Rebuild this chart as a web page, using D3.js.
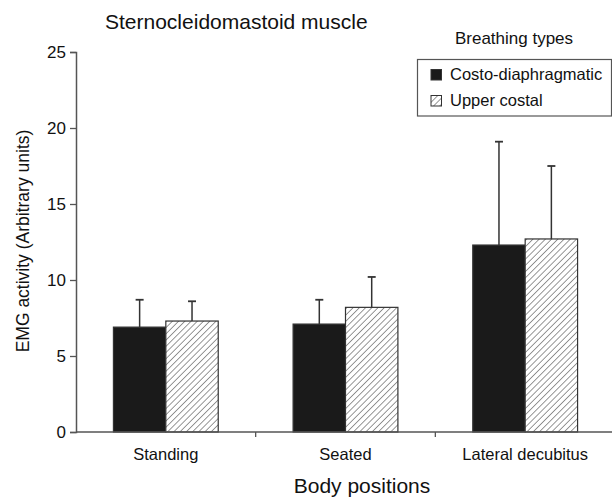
<!DOCTYPE html>
<html>
<head>
<meta charset="utf-8">
<title>Sternocleidomastoid muscle</title>
<script src="https://d3js.org/d3.v7.min.js"></script>
<style>
  body { margin: 0; background: #fff; }
  svg text { font-family: "Liberation Sans", Arial, Helvetica, sans-serif; fill: #111; }
</style>
</head>
<body>
<svg id="chart" width="612" height="497"></svg>
<script>
// body positions on the x axis
var categories = ['Standing', 'Seated', 'Lateral decubitus'];
// breathing types (legend)
var seriesNames = ['Costo-diaphragmatic', 'Upper costal'];
// mean EMG activity and SD per position
var costoMeans = [6.9, 7.1, 12.3];
var costoSD = [1.8, 1.6, 6.8];
var upperMeans = [7.3, 8.2, 12.7];
var upperSD = [1.3, 2.0, 4.8];
var yTicks = [0, 5, 10, 15, 20, 25];

var rows = categories.map(function(c, i) {
  return {
    cat: c,
    vals: [
      {key: seriesNames[0], mean: costoMeans[i], sd: costoSD[i]},
      {key: seriesNames[1], mean: upperMeans[i], sd: upperSD[i]}
    ]
  };
});

var svg = d3.select('#chart');
var ink = '#333';

// hatch pattern for upper costal bars
var defs = svg.append('defs');
var pat = defs.append('pattern')
  .attr('id', 'hatch')
  .attr('patternUnits', 'userSpaceOnUse')
  .attr('width', 4.4).attr('height', 4.4)
  .attr('patternTransform', 'rotate(45)');
pat.append('rect').attr('width', 4.4).attr('height', 4.4).attr('fill', '#fff');
pat.append('line')
  .attr('x1', 0).attr('y1', 0).attr('x2', 0).attr('y2', 4.4)
  .attr('stroke', '#444').attr('stroke-width', 1.1);

var fills = d3.scaleOrdinal().domain(seriesNames).range(['#1a1a1a', 'url(#hatch)']);

var x0 = d3.scaleBand().domain(categories).range([76, 615])
  .paddingInner(0.4167).paddingOuter(0.2083);
var x1 = d3.scaleBand().domain(seriesNames).range([0, x0.bandwidth()]);
var y = d3.scaleLinear().domain([0, 25]).range([432, 52]);

// y axis
var yAxis = svg.append('g')
  .attr('transform', 'translate(76,0)')
  .call(d3.axisLeft(y).tickValues(yTicks).tickSize(6).tickPadding(4));
yAxis.select('.domain').attr('stroke', '#555').attr('stroke-width', 1.5);
yAxis.selectAll('.tick line').attr('stroke', '#555').attr('stroke-width', 1.3);
yAxis.selectAll('.tick text').style('font-size', '17px').attr('fill', '#111')
  .attr('font-family', null);

// bars
var groups = svg.selectAll('.grp')
  .data(rows)
  .enter().append('g')
  .attr('class', 'grp')
  .attr('transform', function(d) { return 'translate(' + x0(d.cat) + ',0)'; });

groups.selectAll('rect')
  .data(function(d) { return d.vals; })
  .enter().append('rect')
  .attr('x', function(d) { return x1(d.key); })
  .attr('y', function(d) { return y(d.mean); })
  .attr('width', x1.bandwidth())
  .attr('height', function(d) { return y(0) - y(d.mean); })
  .attr('fill', function(d) { return fills(d.key); })
  .attr('stroke', ink)
  .attr('stroke-width', 1.2);

// error bars (upper only)
var eb = groups.selectAll('.err')
  .data(function(d) { return d.vals; })
  .enter().append('g')
  .attr('class', 'err');
eb.append('line')
  .attr('x1', function(d) { return x1(d.key) + x1.bandwidth() / 2; })
  .attr('x2', function(d) { return x1(d.key) + x1.bandwidth() / 2; })
  .attr('y1', function(d) { return y(d.mean); })
  .attr('y2', function(d) { return y(d.mean + d.sd); })
  .attr('stroke', ink).attr('stroke-width', 1.5);
eb.append('line')
  .attr('x1', function(d) { return x1(d.key) + x1.bandwidth() / 2 - 4; })
  .attr('x2', function(d) { return x1(d.key) + x1.bandwidth() / 2 + 4; })
  .attr('y1', function(d) { return y(d.mean + d.sd); })
  .attr('y2', function(d) { return y(d.mean + d.sd); })
  .attr('stroke', ink).attr('stroke-width', 1.8);

// x axis: baseline with ticks between categories
svg.append('line')
  .attr('x1', 76).attr('x2', 612).attr('y1', y(0)).attr('y2', y(0))
  .attr('stroke', '#555').attr('stroke-width', 1.5);
var gap = x0.step() * x0.paddingInner() / 2;
svg.selectAll('.sep')
  .data(categories.slice(0, -1))
  .enter().append('line')
  .attr('x1', function(d) { return x0(d) + x0.bandwidth() + gap; })
  .attr('x2', function(d) { return x0(d) + x0.bandwidth() + gap; })
  .attr('y1', y(0)).attr('y2', y(0) + 5)
  .attr('stroke', '#555').attr('stroke-width', 1.3);
svg.selectAll('.xlab')
  .data(categories)
  .enter().append('text')
  .attr('x', function(d) { return x0(d) + x0.bandwidth() / 2; })
  .attr('y', 460)
  .attr('text-anchor', 'middle')
  .style('font-size', '16.5px')
  .text(function(d) { return d; });

// titles
svg.append('text')
  .attr('x', 105).attr('y', 29)
  .style('font-size', '21px')
  .text('Sternocleidomastoid muscle');
svg.append('text')
  .attr('x', 362).attr('y', 493)
  .attr('text-anchor', 'middle')
  .style('font-size', '21px')
  .text('Body positions');
svg.append('text')
  .attr('transform', 'translate(29,241) rotate(-90)')
  .attr('text-anchor', 'middle')
  .style('font-size', '17.5px')
  .text('EMG activity (Arbitrary units)');

// legend
svg.append('text')
  .attr('x', 514).attr('y', 44)
  .attr('text-anchor', 'middle')
  .style('font-size', '17px')
  .text('Breathing types');
svg.append('rect')
  .attr('x', 417.5).attr('y', 59.5).attr('width', 194).attr('height', 56.5)
  .attr('fill', 'none').attr('stroke', '#555').attr('stroke-width', 1.2);
var leg = svg.selectAll('.leg')
  .data(seriesNames)
  .enter().append('g')
  .attr('class', 'leg')
  .attr('transform', function(d, i) { return 'translate(431,' + (69.5 + i * 26) + ')'; });
leg.append('rect')
  .attr('width', 10.5).attr('height', 10.5)
  .attr('fill', function(d) { return fills(d); })
  .attr('stroke', ink).attr('stroke-width', 1);
leg.append('text')
  .attr('x', 19).attr('y', 10.5)
  .style('font-size', '16.5px')
  .text(function(d) { return d; });
</script>
</body>
</html>
